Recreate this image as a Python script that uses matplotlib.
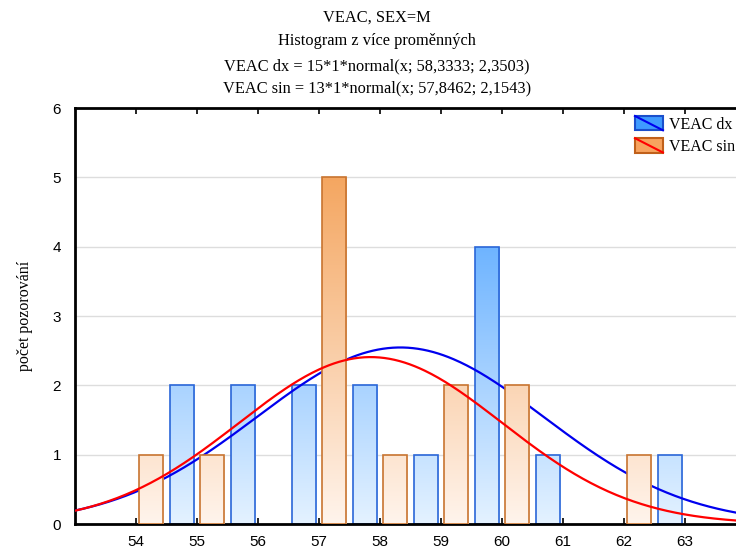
import numpy as np
import matplotlib
matplotlib.use("Agg")
import matplotlib.pyplot as plt
from matplotlib.colors import LinearSegmentedColormap
from matplotlib.legend_handler import HandlerBase
from matplotlib.patches import Rectangle
from matplotlib.lines import Line2D

# data
bins = [54, 55, 56, 57, 58, 59, 60, 61, 62, 63]
dx_counts = [0, 2, 2, 2, 2, 1, 4, 1, 0, 1]
sin_counts = [1, 1, 0, 5, 1, 2, 2, 0, 1, 0]
dx_n, dx_mean, dx_sd = 15, 58.3333, 2.3503
sin_n, sin_mean, sin_sd = 13, 57.8462, 2.1543

titles = ["VEAC, SEX=M",
          "Histogram z více proměnných",
          "VEAC dx = 15*1*normal(x; 58,3333; 2,3503)",
          "VEAC sin = 13*1*normal(x; 57,8462; 2,1543)"]

serif = "Liberation Serif"
sans = "Liberation Sans"

fig = plt.figure(figsize=(7.36, 5.49), dpi=100)
ax = fig.add_axes([75 / 736, 25 / 549, 671 / 736, 416 / 549])
ax.set_xlim(53, 64)
ax.set_ylim(0, 6)

blue_cmap = LinearSegmentedColormap.from_list("b", ["#e4f2ff", "#3f9bff"])
orange_cmap = LinearSegmentedColormap.from_list("o", ["#fff4ec", "#f39d50"])
grad = np.linspace(0, 1, 256).reshape(-1, 1)


def gradient_bars(xs, hs, cmap, edge, z):
    bars = ax.bar(xs, hs, width=0.4, facecolor="none", edgecolor=edge,
                  linewidth=1.2, zorder=z + 0.1)
    for b in bars:
        if b.get_height() <= 0:
            b.set_visible(False)
            continue
        im = ax.imshow(grad, cmap=cmap, origin="lower", aspect="auto",
                       extent=(53, 64, 0, 5.6), zorder=z, vmin=0, vmax=1)
        im.set_clip_path(b)
    return bars


xb = np.array(bins, dtype=float)
gradient_bars(xb - 0.25, dx_counts, blue_cmap, "#2a66d8", 2)

xs = np.linspace(53, 64, 400)
dx_curve = dx_n / (dx_sd * np.sqrt(2 * np.pi)) * np.exp(-0.5 * ((xs - dx_mean) / dx_sd) ** 2)
sin_curve = sin_n / (sin_sd * np.sqrt(2 * np.pi)) * np.exp(-0.5 * ((xs - sin_mean) / sin_sd) ** 2)
ax.plot(xs, dx_curve, color="#0000ee", lw=1.6, zorder=3)

gradient_bars(xb + 0.25, sin_counts, orange_cmap, "#c87430", 4)
ax.plot(xs, sin_curve, color="#ff0000", lw=1.6, zorder=5)

ax.set_xticks(bins)
ax.set_yticks(range(0, 7))
ax.grid(axis="y", color="#dddddd", lw=1, zorder=0)
ax.set_axisbelow(True)
ax.tick_params(axis="x", direction="in", length=4, width=1.2, top=True,
               labelsize=11, pad=8)
ax.tick_params(axis="y", length=0, labelsize=11, pad=10)
for lab in ax.get_xticklabels() + ax.get_yticklabels():
    lab.set_fontfamily(sans)
for s in ["left", "bottom", "top"]:
    ax.spines[s].set_linewidth(2)
ax.spines["right"].set_visible(False)

ax.set_ylabel("počet pozorování", fontfamily=serif, fontsize=11.5, labelpad=14)

ys = [18, 41, 66, 88]
for t, y in zip(titles, ys):
    fig.text(377 / 736, 1 - y / 549, t, ha="center", va="center",
             fontfamily=serif, fontsize=11.8)


class BoxHandler(HandlerBase):
    def __init__(self, face, edge, line):
        super().__init__()
        self.face, self.edge, self.line = face, edge, line

    def create_artists(self, legend, orig_handle, xd, yd, w, h, fs, trans):
        r = Rectangle((-xd, -yd), w, h, facecolor=self.face,
                      edgecolor=self.edge, lw=1.5, transform=trans)
        l = Line2D([-xd, -xd + w], [-yd + h, -yd], color=self.line, lw=1.5,
                   transform=trans)
        return [r, l]


h1 = Rectangle((0, 0), 1, 1)
h2 = Rectangle((0, 0), 1, 1)
leg = ax.legend([h1, h2], ["VEAC dx", "VEAC sin"],
                handler_map={h1: BoxHandler("#3f9bff", "#1a4fcc", "#0000ee"),
                             h2: BoxHandler("#f7a35e", "#c0601a", "#ff0000")},
                loc="upper left", bbox_to_anchor=(635 / 736, 1 - 116 / 549),
                bbox_transform=fig.transFigure, frameon=False,
                prop={"family": serif, "size": 11.5}, handlelength=1.75,
                handleheight=1.0, handletextpad=0.4, labelspacing=0.35,
                borderpad=0, borderaxespad=0)

fig.savefig("out.png", dpi=100)
